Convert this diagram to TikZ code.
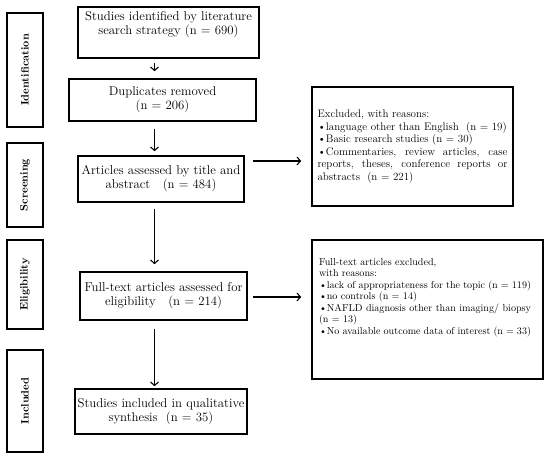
\documentclass[tikz,border=0pt]{standalone}
\usetikzlibrary{arrows.meta}
\begin{document}
\begin{tikzpicture}[x=1pt,y=-1pt,
  box/.style={draw, line width=1.6pt, inner sep=0pt, align=center, font=\fontsize{12.8}{14}\selectfont},
  stage/.style={draw, line width=1.8pt, minimum width=36pt, inner sep=0pt, font=\fontsize{10.8}{12}\selectfont\bfseries},
  excl/.style={draw, line width=1.6pt, inner sep=0pt},
  arr/.style={line width=1.1pt, -{Straight Barb[length=3.5pt,width=8pt]}}
]
\useasboundingbox (0,0) rectangle (550,458);

% stage labels
\node[stage, minimum height=114pt] (s1) at (25,70) {\rotatebox{90}{Identification}};
\node[stage, minimum height=84pt] (s2) at (25,185) {\rotatebox{90}{Screening}};
\node[stage, minimum height=89pt] (s3) at (25,284.5) {\rotatebox{90}{Eligibility}};
\node[stage, minimum height=102pt] (s4) at (25,401) {\rotatebox{90}{Included}};

% main boxes
\node[box, minimum width=181pt, minimum height=51pt] (b1) at (168.5,32.5)
  {\parbox[c][51pt][t]{181pt}{\centering\vspace*{4pt}Studies identified by literature\\search strategy (n = 690)}};
\node[box, minimum width=187pt, minimum height=42pt] (b2) at (162.5,100)
  {Duplicates removed\\(n = 206)};
\node[box, minimum width=166pt, minimum height=46pt] (b3) at (161,179)
  {Articles assessed by title and\\abstract \ \ (n = 484)};
\node[box, minimum width=167pt, minimum height=48pt] (b4) at (163.5,296)
  {Full-text articles assessed for\\eligibility \ \ (n = 214)};
\node[box, minimum width=172pt, minimum height=45pt] (b5) at (161,411.5)
  {Studies included in qualitative\\synthesis \ (n = 35)};

% exclusion boxes
\node[excl, minimum width=201pt, minimum height=119pt, font=\fontsize{11}{12.6}\selectfont] (e1) at (412.5,146.5)
  {\parbox{190pt}{\hyphenpenalty=10000\relax\exhyphenpenalty=10000\relax
   Excluded, with reasons:\par
   \textbullet language other than English \ (n = 19)\par
   \textbullet Basic research studies (n = 30)\par
   \textbullet Commentaries, review articles, case\linebreak reports, theses, conference reports or\linebreak abstracts \ (n = 221)}};
\node[excl, minimum width=231pt, minimum height=139pt, font=\fontsize{10.1}{11.5}\selectfont] (e2) at (427.5,309.5)
  {\makebox[231pt][l]{\hspace{7pt}\parbox[c][139pt][t]{212pt}{\hyphenpenalty=10000\relax\exhyphenpenalty=10000\relax
   \vspace*{18pt}%
   Full-text articles excluded,\par
   with reasons:\par
   \textbullet lack of appropriateness for the topic (n = 119)\par
   \textbullet no controls (n = 14)\par
   \textbullet NAFLD diagnosis other than imaging/ biopsy\linebreak (n = 13)\par
   \textbullet No available outcome data of interest (n = 33)}}};

% connectors
\coordinate (vx) at (154.5,0);
\coordinate (h1) at (0,161);
\coordinate (h2) at (0,297);
\draw[arr, shorten <=4pt, shorten >=7pt] (b1.south -| vx) -- (b2.north -| vx);
\draw[arr, shorten <=7pt, shorten >=4pt] (b2.south -| vx) -- (b3.north -| vx);
\draw[arr, shorten <=6pt, shorten >=7pt] (b3.south -| vx) -- (b4.north -| vx);
\draw[arr, shorten <=8pt, shorten >=2pt] (b4.south -| vx) -- (b5.north -| vx);
\draw[arr, shorten <=8pt, shorten >=10pt] (b3.east |- h1) -- (e1.west |- h1);
\draw[arr, shorten <=5pt, shorten >=10pt] (b4.east |- h2) -- (e2.west |- h2);
\end{tikzpicture}
\end{document}
